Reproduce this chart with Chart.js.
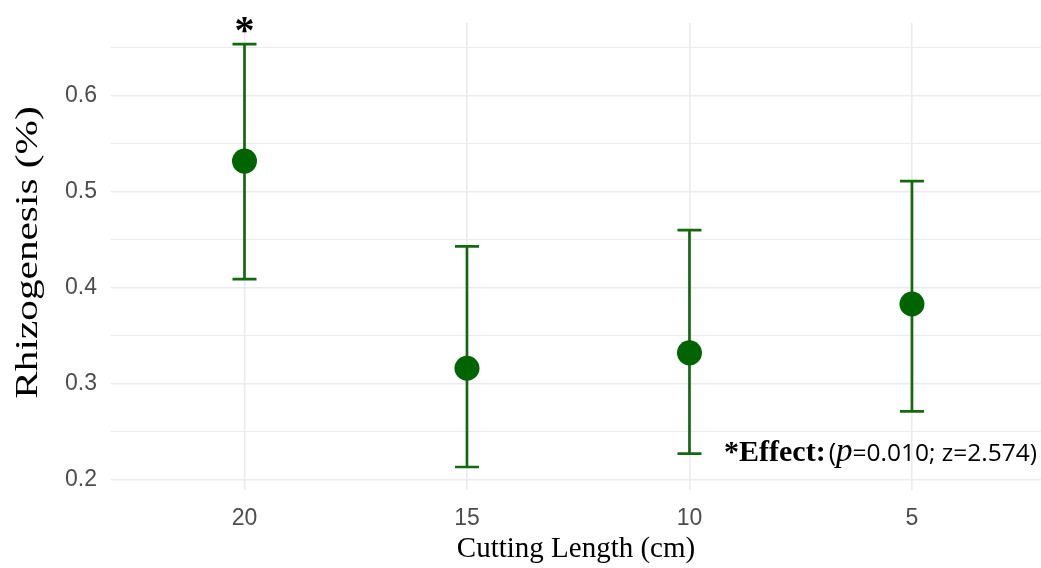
<!DOCTYPE html>
<html>
<head>
<meta charset="utf-8">
<script src="https://cdn.jsdelivr.net/npm/chart.js@4.4.1/dist/chart.umd.min.js"></script>
<style>
  html, body { margin: 0; padding: 0; background: #fff; overflow: hidden; }
  canvas { display: block; }
</style>
</head>
<body>
<canvas id="rhizoChart" width="1041" height="568"></canvas>
<script>
// data
const lengths = ['20', '15', '10', '5'];
const meanRhizo = [0.532, 0.316, 0.332, 0.383];
const lowerCI = [0.409, 0.213, 0.227, 0.271];
const upperCI = [0.654, 0.443, 0.460, 0.511];
const sigMark = ['*', '', '', ''];
const yTicks = [0.2, 0.25, 0.3, 0.35, 0.4, 0.45, 0.5, 0.55, 0.6, 0.65];

const GREEN = '#006400';
const BAR_GREEN = '#12690f';
const GRID = '#ebebeb';

const isMajor = v => Math.abs(v * 10 - Math.round(v * 10)) < 1e-6;

// error bars + significance star
const errorBars = {
  id: 'errorBars',
  beforeDatasetsDraw(chart) {
    const { ctx, scales: { x, y } } = chart;
    ctx.save();
    ctx.strokeStyle = BAR_GREEN;
    ctx.lineWidth = 2.7;
    lengths.forEach((_, i) => {
      const px = x.getPixelForValue(i);
      const top = y.getPixelForValue(upperCI[i]);
      const bot = y.getPixelForValue(lowerCI[i]);
      ctx.beginPath();
      ctx.moveTo(px, top); ctx.lineTo(px, bot);
      ctx.moveTo(px - 12, top); ctx.lineTo(px + 12, top);
      ctx.moveTo(px - 12, bot); ctx.lineTo(px + 12, bot);
      ctx.stroke();
      if (sigMark[i]) {
        ctx.fillStyle = '#000';
        ctx.font = 'bold 40px "Liberation Serif"';
        ctx.textAlign = 'center';
        ctx.textBaseline = 'alphabetic';
        ctx.fillText(sigMark[i], px, top - 1);
      }
    });
    ctx.restore();
  }
};

// y axis title, drawn by hand so it can be stretched like the original
const yTitle = {
  id: 'yTitle',
  afterDraw(chart) {
    const { ctx, chartArea } = chart;
    ctx.save();
    ctx.translate(29, (chartArea.top + chartArea.bottom) / 2 - 4);
    ctx.rotate(-Math.PI / 2);
    ctx.scale(1.29, 1);
    ctx.fillStyle = '#000';
    ctx.font = '32px "Liberation Serif"';
    ctx.textAlign = 'center';
    ctx.textBaseline = 'middle';
    ctx.fillText('Rhizogenesis (%)', 0, 0);
    ctx.restore();
  }
};

// "*Effect:(p=0.010; z=2.574)" note in the lower right corner
const effectNote = {
  id: 'effectNote',
  afterDraw(chart) {
    const { ctx, chartArea } = chart;
    const parts = [
      ['*Effect:', 'bold 30px "Liberation Serif"'],
      ['(', '25px "Open Sans"'],
      ['p', 'italic 33px "Liberation Serif"'],
      ['=0.010; z=2.574)', '24.5px "Open Sans"']
    ];
    ctx.save();
    ctx.fillStyle = '#000';
    ctx.textBaseline = 'alphabetic';
    ctx.textAlign = 'left';
    let total = 0;
    parts.forEach(([t, f]) => { ctx.font = f; total += ctx.measureText(t).width; });
    total += 3;
    let xPos = chartArea.right - 4 - total;
    const base = chart.scales.y.getPixelForValue(0.2) - 18;
    parts.forEach(([t, f], k) => {
      ctx.font = f;
      ctx.fillText(t, xPos, base);
      xPos += ctx.measureText(t).width + (k === 0 ? 3 : 0);
    });
    ctx.restore();
  }
};

new Chart(document.getElementById('rhizoChart'), {
  type: 'scatter',
  data: {
    datasets: [{
      data: meanRhizo.map((v, i) => ({ x: i, y: v })),
      backgroundColor: GREEN,
      borderWidth: 0,
      pointRadius: 12.5,
      pointHoverRadius: 12.5
    }]
  },
  options: {
    responsive: false,
    animation: false,
    layout: { autoPadding: false, padding: { top: 23, right: 0, left: 0, bottom: 0 } },
    plugins: { legend: { display: false }, tooltip: { enabled: false } },
    scales: {
      x: {
        type: 'linear',
        min: -0.6,
        max: 3.58,
        afterBuildTicks: s => { s.ticks = lengths.map((_, i) => ({ value: i })); },
        afterFit: s => { s.height = 78; s.paddingLeft = 0; s.paddingRight = 0; },
        grid: { color: GRID, lineWidth: 1.6, drawTicks: false },
        border: { display: false },
        ticks: {
          padding: 15,
          color: '#4d4d4d',
          font: { family: '"Liberation Sans"', size: 23 },
          callback: v => lengths[v]
        },
        title: {
          display: true,
          text: 'Cutting Length (cm)',
          color: '#000',
          font: { family: '"Liberation Serif"', size: 29 },
          padding: { top: 0, bottom: 1 }
        }
      },
      y: {
        min: 0.189,
        max: 0.676,
        afterBuildTicks: s => { s.ticks = yTicks.map(v => ({ value: v })); },
        afterFit: s => { s.width = 111; s.paddingTop = 0; s.paddingBottom = 0; },
        grid: {
          color: GRID,
          drawTicks: false,
          lineWidth: c => (c.tick && isMajor(c.tick.value) ? 1.6 : 1)
        },
        border: { display: false },
        ticks: {
          padding: 14,
          color: '#4d4d4d',
          font: { family: '"Liberation Sans"', size: 23 },
          callback: v => (isMajor(v) ? v.toFixed(1) : '')
        }
      }
    }
  },
  plugins: [errorBars, yTitle, effectNote]
});
</script>
</body>
</html>
